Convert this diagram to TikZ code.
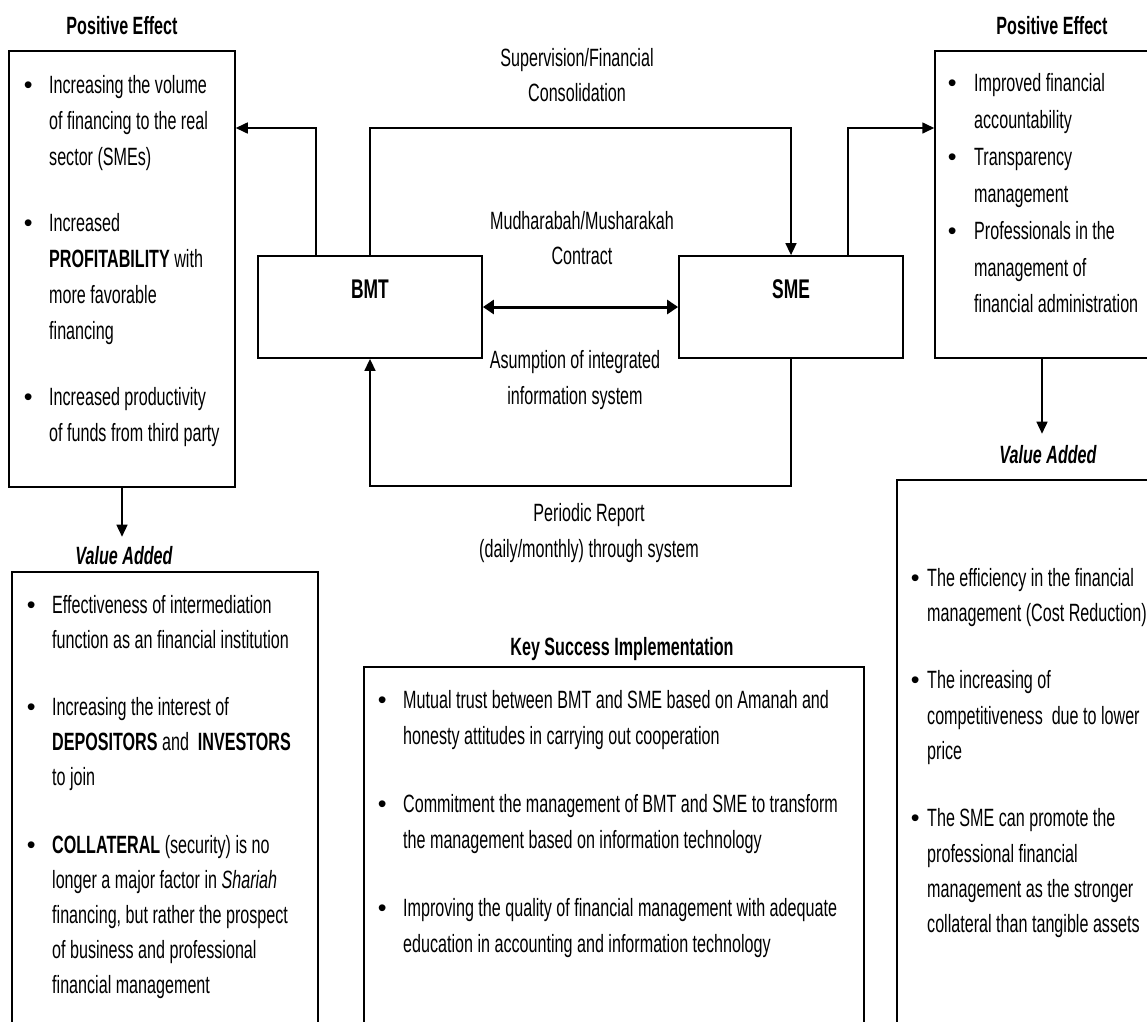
\documentclass[tikz,border=0pt]{standalone}
\usepackage{fontspec}
\setmainfont[FakeStretch=0.645]{Liberation Sans}
\newfontfamily\bulfont{Liberation Sans}
\usetikzlibrary{arrows.meta}

\newenvironment{itemlist}[2]{%
  \begin{list}{\bulfont\textbullet}{%
    \setlength{\leftmargin}{#1}\setlength{\labelwidth}{#1}%
    \setlength{\labelsep}{0pt}\setlength{\itemsep}{#2}%
    \setlength{\parsep}{0pt}\setlength{\topsep}{0pt}\setlength{\partopsep}{0pt}%
    \renewcommand{\makelabel}[1]{##1\hfil}}\raggedright\spaceskip=0pt\xspaceskip=0pt}%
  {\end{list}}

\tikzset{
    frame/.style={draw, line width=1.5pt, inner sep=0pt},
    entity/.style={draw, line width=1.8pt, minimum width=224pt, minimum height=102pt, inner sep=0pt, text depth=35pt, font=\fontsize{27}{30}\selectfont\bfseries},
    head/.style={anchor=base, inner sep=2pt, font=\fontsize{25}{30}\selectfont\bfseries},
    note/.style={align=center, inner sep=0pt, font=\fontsize{25}{35.5}\selectfont},
    txt/.style={anchor=base west, inner sep=0pt, text width=480pt, font=\fontsize{25}{#1}\selectfont},
    arr/.style={line width=1.6pt, -{Triangle[length=12pt,width=11pt]}},
    dbl/.style={line width=3pt, {Triangle[length=11pt,width=14pt]}-{Triangle[length=11pt,width=14pt]}}
}

\begin{document}
\begin{tikzpicture}[x=1pt, y=-1pt]
\useasboundingbox (0,0) rectangle (1147,1021);
\fill[white] (0,0) rectangle (1147,1021);
\clip (0,0) rectangle (1147,1021);

% BMT and SME
\node[entity] (bmt) at (370,307) {BMT};
\node[entity] (sme) at (791,307) {SME};

% Positive effect boxes
\node[frame, minimum width=226pt, minimum height=436pt] (pel) at (122,269) {};
\node[head] (pelt) at (122,34) {Positive Effect};
\node[frame, minimum width=214pt, minimum height=307pt] (per) at (1042,204.5) {};
\node[head] (pert) at (1052,34) {Positive Effect};

\node[txt=36pt] (pellist) at (23.6,57) {\begin{itemlist}{25.4pt}{30pt}
\item Increasing the volume\\of financing to the real\\sector (SMEs)
\item Increased\\\textbf{PROFITABILITY} with\\more favorable\\financing
\item Increased productivity\\of funds from third party
\end{itemlist}};
\node[txt=36.5pt] (perlist) at (947.6,55) {\begin{itemlist}{26.4pt}{1pt}
\item Improved financial\\accountability
\item Transparency\\management
\item Professionals in the\\management of\\financial administration
\end{itemlist}};

% Value added boxes
\node[head, font=\fontsize{25}{30}\selectfont\bfseries\itshape] (valt) at (124,564) {Value Added};
\node[frame, minimum width=306pt, minimum height=468pt] (val) at (165,806) {};
\node[head, font=\fontsize{25}{30}\selectfont\bfseries\itshape] (vart) at (1048,463) {Value Added};
\node[frame, minimum width=303pt, minimum height=560pt] (var) at (1048.5,760) {};

\node[txt=35pt] (vallist) at (26.6,578) {\begin{itemlist}{25.4pt}{32.5pt}
\item Effectiveness of intermediation\\function as an financial institution
\item Increasing the interest of\\\textbf{DEPOSITORS} and\ \ \textbf{INVESTORS}\\to join
\item \textbf{COLLATERAL} (security) is no\\longer a major factor in \textit{Shariah}\\financing, but rather the prospect\\of business and professional\\financial management
\end{itemlist}};
\node[txt=35.3pt] (varlist) at (910.6,551) {\begin{itemlist}{16.4pt}{32pt}
\item The efficiency in the financial\\management (Cost Reduction)
\item The increasing of\\competitiveness\ \ due to lower\\price
\item The SME can promote the\\professional financial\\management as the stronger\\collateral than tangible assets
\end{itemlist}};

% Key success implementation
\node[head] (ksit) at (622,655) {Key Success Implementation};
\node[frame, minimum width=500pt, minimum height=373pt] (ksi) at (614,853.5) {};
\node[txt=36pt] (ksilist) at (377.6,672) {\begin{itemlist}{25.4pt}{32pt}
\item Mutual trust between BMT and SME based on Amanah and\\honesty attitudes in carrying out cooperation
\item Commitment the management of BMT and SME to transform\\the management based on information technology
\item Improving the quality of financial management with adequate\\education in accounting and information technology
\end{itemlist}};

% Connector labels
\node[note] (supn) at (577,75) {Supervision/Financial\\Consolidation};
\node[note] (mudn) at (582,238) {Mudharabah/Musharakah\\Contract};
\node[note] (asun) at (575,380) {Asumption of integrated\\information system};
\node[note] (repn) at (589,533) {Periodic Report\\(daily/monthly) through system};

% Connectors
\coordinate (top) at (0,128);
\coordinate (bot) at (0,486);
\draw[arr] ([xshift=-54pt]bmt.north) |- (top -| pel.east);
\draw[arr] (bmt.north) |- (top -| sme.north) -- (sme.north);
\draw[arr] ([xshift=57pt]sme.north) |- (top -| per.west);
\draw[dbl] (bmt.east) -- (sme.west);
\draw[arr] (sme.south) |- (bot -| bmt.south) -- (bmt.south);
\draw[arr, shorten >=7pt] (pel.south) -- (pel.south |- valt.north);
\draw[arr, shorten >=9pt] (per.south) -- (per.south |- vart.north);
\end{tikzpicture}
\end{document}
